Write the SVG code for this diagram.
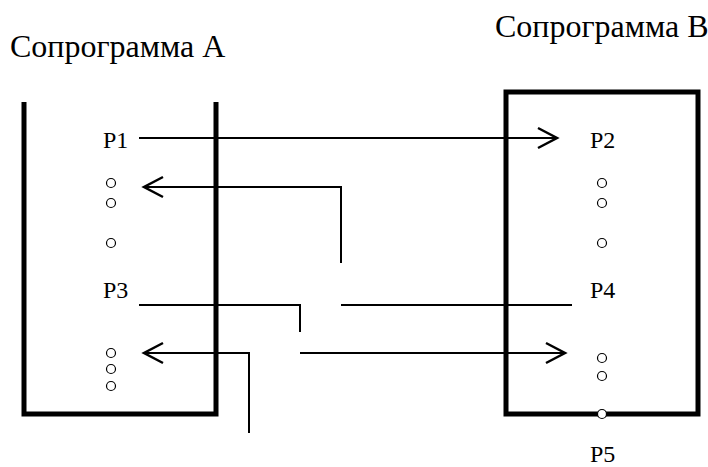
<svg xmlns="http://www.w3.org/2000/svg" width="708" height="467" viewBox="0 0 708 467">
<style>
.title{font-size:32px}
.lbl{font-size:24px}
.box{fill:none;stroke:#000;stroke-width:5;stroke-linejoin:miter}
.ln{fill:none;stroke:#000;stroke-width:2}
.dot{fill:#fff;stroke:#000;stroke-width:1.2}
</style>
<defs>
<marker id="ah" markerUnits="userSpaceOnUse" markerWidth="24" markerHeight="24" viewBox="-21 -12 24 24" refX="0" refY="0" orient="auto">
<polyline points="-19,-10 0,0 -19,10" fill="none" stroke="#000" stroke-width="2.5"/>
</marker>
</defs>
<g id="coroutineA">
<text class="title" font-family="Liberation Serif" x="10" y="57">Сопрограмма А</text>
<polyline class="box" points="24,102 24,414 216,414 216,102"/>
<text class="lbl" font-family="Liberation Serif" x="103" y="148">P1</text>
<text class="lbl" font-family="Liberation Serif" x="103" y="298">P3</text>
<circle class="dot" cx="111" cy="183" r="4.5"/>
<circle class="dot" cx="111" cy="203" r="4.5"/>
<circle class="dot" cx="111" cy="243" r="4.5"/>
<circle class="dot" cx="111" cy="353" r="4.5"/>
<circle class="dot" cx="111" cy="369" r="4.5"/>
<circle class="dot" cx="111" cy="386" r="4.5"/>
</g>
<g id="coroutineB">
<text class="title" font-family="Liberation Serif" x="495" y="37">Сопрограмма В</text>
<rect class="box" x="506" y="92" width="192" height="322"/>
<text class="lbl" font-family="Liberation Serif" x="590" y="148">P2</text>
<text class="lbl" font-family="Liberation Serif" x="590" y="298">P4</text>
<circle class="dot" cx="602" cy="183" r="4.5"/>
<circle class="dot" cx="602" cy="203" r="4.5"/>
<circle class="dot" cx="602" cy="243" r="4.5"/>
<circle class="dot" cx="602" cy="358" r="4.5"/>
<circle class="dot" cx="602" cy="376" r="4.5"/>
</g>
<g id="connectors">
<polyline class="ln" points="139,138 557,138" marker-end="url(#ah)"/>
<polyline class="ln" points="341,263 341,187 144,187" marker-end="url(#ah)"/>
<polyline class="ln" points="139,305 300,305 300,332"/>
<polyline class="ln" points="341,305 572,305"/>
<polyline class="ln" points="300,353 565,353" marker-end="url(#ah)"/>
<polyline class="ln" points="249,433 249,353 144,353" marker-end="url(#ah)"/>
</g>
<g id="P5">
<circle class="dot" cx="602" cy="414" r="4.5"/>
<text class="lbl" font-family="Liberation Serif" x="590" y="462">P5</text>
</g>
</svg>
